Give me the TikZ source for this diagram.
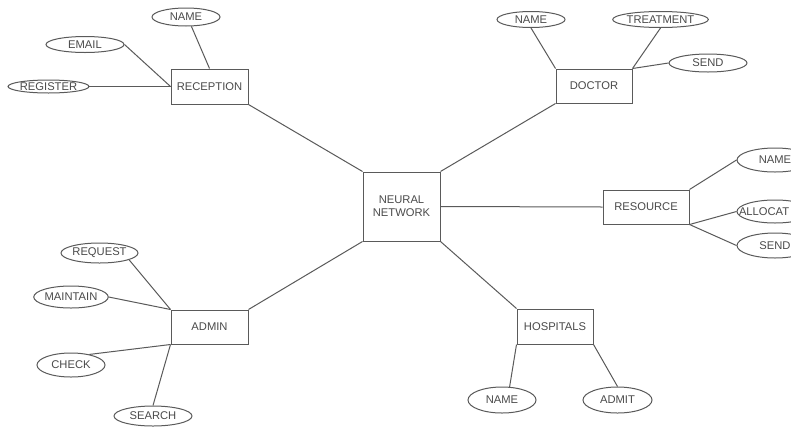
\documentclass[tikz,border=0pt]{standalone}
\usepackage{fontspec}
\setmainfont{Liberation Sans}
\usetikzlibrary{shapes.geometric}
\definecolor{edgegray}{HTML}{5A5A5A}
\definecolor{labelgray}{HTML}{4A4A4A}

\begin{document}
\begin{tikzpicture}[x=1pt,y=-1pt,
  entity/.style={draw=edgegray,line width=1pt,rectangle,inner sep=0pt,text=labelgray,font=\fontsize{11.2}{13}\selectfont,align=center},
  attrib/.style={draw=edgegray,line width=1pt,ellipse,inner sep=0pt,text=labelgray,font=\fontsize{11.2}{13}\selectfont},
  link/.style={draw=edgegray,line width=1pt}]
 \fill[white] (0,0) rectangle (791,426);
 \useasboundingbox (0,0) rectangle (791,426);
 \clip (0,0) rectangle (791,426);
 \node[entity,minimum width=77pt,minimum height=69pt] (nn) at (401.5,206.5) {NEURAL\\NETWORK};
 \node[entity,minimum width=77pt,minimum height=35pt] (reception) at (209.5,86.5) {RECEPTION};
 \node[entity,minimum width=76pt,minimum height=34pt] (doctor) at (594,86) {DOCTOR};
 \node[entity,minimum width=86pt,minimum height=34pt] (resource) at (646,207) {RESOURCE};
 \node[entity,minimum width=76pt,minimum height=35pt] (hospitals) at (555,326.5) {HOSPITALS};
 \node[entity,minimum width=77pt,minimum height=34pt] (admin) at (209.5,327) {ADMIN};
 \node[attrib,minimum width=68pt,minimum height=18pt] (recname) at (186,17) {NAME};
 \node[attrib,minimum width=78pt,minimum height=16pt] (recemail) at (85,44.5) {EMAIL};
 \node[attrib,minimum width=73pt,minimum height=13pt] (recregister) at (48.5,86.5) {REGISTER};
 \node[attrib,minimum width=68pt,minimum height=16pt] (docname) at (531,19.5) {NAME};
 \node[attrib,minimum width=77pt,minimum height=16pt] (doctreat) at (660.5,19.5) {TREATMENT};
 \node[attrib,minimum width=78pt,minimum height=18pt] (docsend) at (708,63) {SEND};
 \node[attrib,minimum width=76pt,minimum height=24pt] (resname) at (775,160) {NAME};
 \node[attrib,minimum width=76pt,minimum height=23pt] (resalloc) at (775,211.5) {\makebox[0pt][l]{\kern-36pt ALLOCAT}};
 \node[attrib,minimum width=76pt,minimum height=25pt] (ressend) at (775,245.5) {SEND};
 \node[attrib,minimum width=68pt,minimum height=26pt] (hosname) at (502,400) {NAME};
 \node[attrib,minimum width=69pt,minimum height=26pt] (hosadmit) at (617.5,400) {ADMIT};
 \node[attrib,minimum width=77pt,minimum height=20pt] (admrequest) at (99.5,253) {REQUEST};
 \node[attrib,minimum width=68pt,minimum height=22pt] (admmaintain) at (71,297) {MAINTAIN};
 \node[attrib,minimum width=68pt,minimum height=24pt] (admcheck) at (71,365) {CHECK};
 \node[attrib,minimum width=78pt,minimum height=20pt] (admsearch) at (153,416) {SEARCH};
 \draw[link] (reception.south east) -- (nn.north west);
 \draw[link] (doctor.south west) -- (nn.north east);
 \draw[link] (nn.east) -- (resource.west);
 \draw[link] (nn.south east) -- (hospitals.north west);
 \draw[link] (admin.north east) -- (nn.south west);
 \draw[link] (recname.-60) -- (reception.north);
 \draw[link] (recemail.east) -- (reception.west);
 \draw[link] (recregister.east) -- (reception.west);
 \draw[link] (docname.south) -- (doctor.north west);
 \draw[link] (doctreat.south) -- (doctor.north east);
 \draw[link] (docsend.west) -- (doctor.north east);
 \draw[link] (resource.north east) -- (resname.west);
 \draw[link] (resource.south east) -- (resalloc.west);
 \draw[link] (resource.south east) -- (ressend.west);
 \draw[link] (hospitals.south west) -- (hosname.60);
 \draw[link] (hospitals.south east) -- (hosadmit.north);
 \draw[link] (admrequest.-13) -- (admin.north west);
 \draw[link] (admmaintain.east) -- (admin.north west);
 \draw[link] (admcheck.30) -- (admin.south west);
 \draw[link] (admsearch.north) -- (admin.south west);
\end{tikzpicture}
\end{document}
